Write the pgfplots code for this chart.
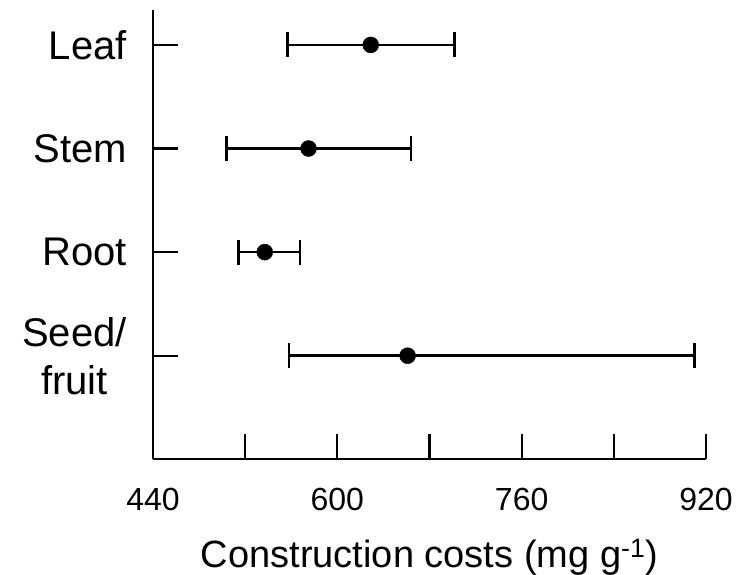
\documentclass[border=0pt]{standalone}
\usepackage{pgfplots}
\pgfplotsset{compat=1.18}
\usepackage{fontspec}
\setmainfont{Liberation Sans}
\begin{document}
\begin{tikzpicture}
\path[use as bounding box] (-153pt,-114.7pt) rectangle (595pt,459.3pt);
\begin{axis}[
  at={(0pt,0pt)}, anchor=south west,
  width=553pt, height=449.3pt, scale only axis,
  xmin=440, xmax=920, ymin=0, ymax=4.337,
  axis lines=left,
  axis line style={-, line width=2.3pt, black},
  tick align=inside,
  major tick length=25pt,
  tick style={line width=2.3pt, black},
  xtick={440,520,600,680,760,840,920},
  xticklabels={440,,600,,760,,920},
  ytick={1,2,3,4},
  yticklabels={{Seed/\\fruit},Root,Stem,Leaf},
  xticklabel style={font=\fontsize{32}{36}\selectfont, anchor=north, inner sep=0pt, yshift=-29pt},
  yticklabel style={font=\fontsize{40}{48}\selectfont, anchor=east, inner sep=0pt, xshift=-26pt, align=center},
  xlabel={Construction costs (mg g\textsuperscript{-1})},
  xlabel style={font=\fontsize{38}{44}\selectfont, at={(axis description cs:0.5,0)}, anchor=base, inner sep=0pt, yshift=-107.7pt},
  clip=false,
]
\addplot[only marks, mark=*, mark size=8pt, black,
  error bars/.cd, x dir=both, x explicit,
  error bar style={line width=2.7pt, black},
  error mark options={rotate=90, mark size=12.5pt, line width=2.7pt, black}]
coordinates {
(629,4) += (72.5,0) -= (72,0)
(575,3) += (89,0) -= (71,0)
(537,2) += (30.5,0) -= (23,0)
(661,1) += (249,0) -= (103,0)
};
\end{axis}
\end{tikzpicture}
\end{document}
